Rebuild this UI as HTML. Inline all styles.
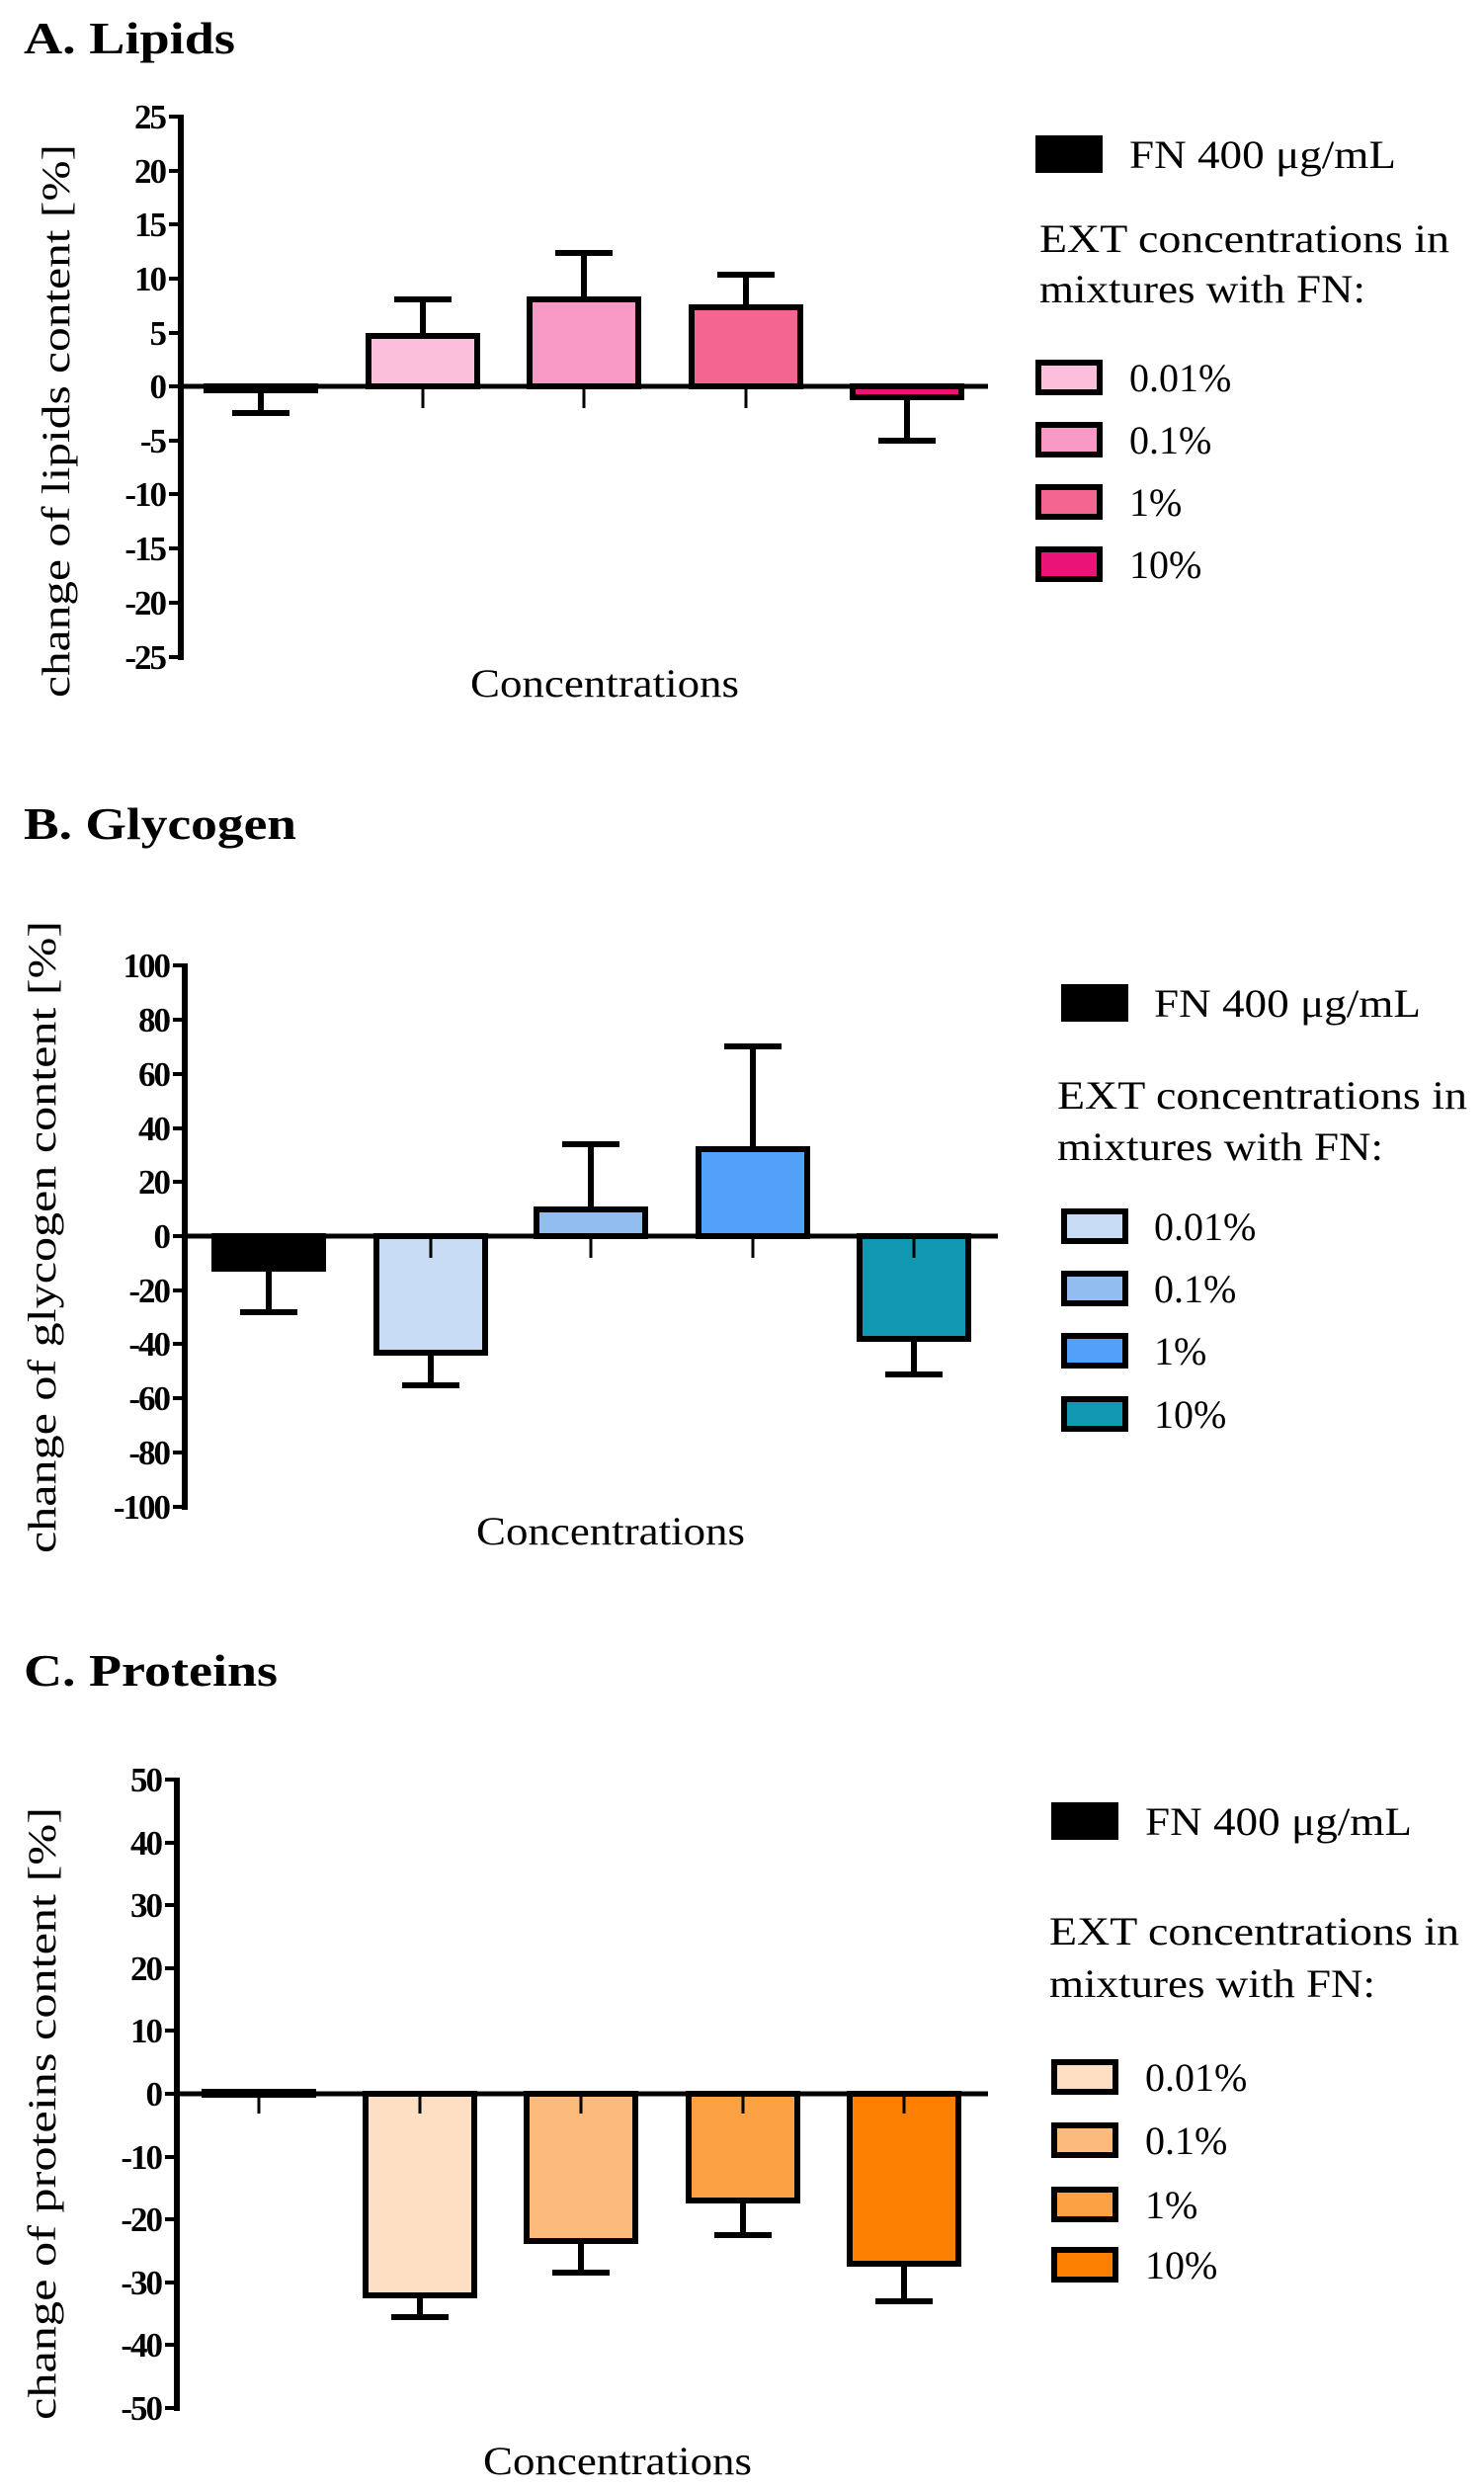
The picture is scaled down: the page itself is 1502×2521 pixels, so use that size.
<!DOCTYPE html>
<html><head><meta charset="utf-8"><style>
html,body{margin:0;padding:0;background:#fff;}
svg{display:block;}
.t{font-family:"Liberation Serif",serif;font-weight:bold;font-size:35px;letter-spacing:-2px;}
.l{font-family:"Liberation Serif",serif;font-size:40px;}
.h{font-family:"Liberation Serif",serif;font-weight:bold;font-size:46px;}
</style></head><body>
<svg width="1502" height="2521" viewBox="0 0 1502 2521" xmlns="http://www.w3.org/2000/svg">
<g stroke="#000" stroke-width="6" fill="none">
<line x1="183" y1="116" x2="183" y2="668"/>
<g stroke-width="4">
<line x1="171" y1="118" x2="183" y2="118"/><line x1="171" y1="173" x2="183" y2="173"/><line x1="171" y1="227" x2="183" y2="227"/><line x1="171" y1="282" x2="183" y2="282"/><line x1="171" y1="337" x2="183" y2="337"/><line x1="171" y1="391" x2="183" y2="391"/><line x1="171" y1="446" x2="183" y2="446"/><line x1="171" y1="500" x2="183" y2="500"/><line x1="171" y1="555" x2="183" y2="555"/><line x1="171" y1="610" x2="183" y2="610"/><line x1="171" y1="665" x2="183" y2="665"/>
</g>
<line x1="187" y1="975" x2="187" y2="1528"/>
<g stroke-width="4">
<line x1="175" y1="977" x2="187" y2="977"/><line x1="175" y1="1032" x2="187" y2="1032"/><line x1="175" y1="1087" x2="187" y2="1087"/><line x1="175" y1="1142" x2="187" y2="1142"/><line x1="175" y1="1196" x2="187" y2="1196"/><line x1="175" y1="1251" x2="187" y2="1251"/><line x1="175" y1="1306" x2="187" y2="1306"/><line x1="175" y1="1360" x2="187" y2="1360"/><line x1="175" y1="1415" x2="187" y2="1415"/><line x1="175" y1="1470" x2="187" y2="1470"/><line x1="175" y1="1525" x2="187" y2="1525"/>
</g>
<line x1="179" y1="1799" x2="179" y2="2440"/>
<g stroke-width="4">
<line x1="167" y1="1801" x2="179" y2="1801"/><line x1="167" y1="1865" x2="179" y2="1865"/><line x1="167" y1="1928" x2="179" y2="1928"/><line x1="167" y1="1992" x2="179" y2="1992"/><line x1="167" y1="2055" x2="179" y2="2055"/><line x1="167" y1="2119" x2="179" y2="2119"/><line x1="167" y1="2183" x2="179" y2="2183"/><line x1="167" y1="2246" x2="179" y2="2246"/><line x1="167" y1="2310" x2="179" y2="2310"/><line x1="167" y1="2373" x2="179" y2="2373"/><line x1="167" y1="2437" x2="179" y2="2437"/>
</g>
</g>

<g stroke="#000" stroke-width="6">
<line x1="264" y1="395" x2="264" y2="418"/><line x1="235" y1="418" x2="293" y2="418"/>
<line x1="428" y1="340" x2="428" y2="303"/><line x1="399" y1="303" x2="457" y2="303"/>
<line x1="591" y1="303" x2="591" y2="256"/><line x1="562" y1="256" x2="620" y2="256"/>
<line x1="755" y1="311" x2="755" y2="278"/><line x1="726" y1="278" x2="784" y2="278"/>
<line x1="918" y1="402" x2="918" y2="446"/><line x1="889" y1="446" x2="947" y2="446"/>
<rect x="209" y="391" width="110" height="4" fill="#000"/>
<rect x="373" y="340" width="110" height="51" fill="#fbbfdc"/>
<rect x="536" y="303" width="110" height="88" fill="#f799c4"/>
<rect x="700" y="311" width="110" height="80" fill="#f56592"/>
<rect x="863" y="391" width="110" height="11" fill="#ea1478"/>
<line x1="183" y1="391" x2="1000" y2="391" stroke-width="5"/>
<g stroke-width="3"><line x1="428" y1="391" x2="428" y2="413"/><line x1="591" y1="391" x2="591" y2="413"/><line x1="755" y1="391" x2="755" y2="413"/></g>
</g>

<g stroke="#000" stroke-width="6">
<line x1="272" y1="1284" x2="272" y2="1328"/><line x1="243" y1="1328" x2="301" y2="1328"/>
<line x1="436" y1="1369" x2="436" y2="1402"/><line x1="407" y1="1402" x2="465" y2="1402"/>
<line x1="598" y1="1224" x2="598" y2="1158"/><line x1="569" y1="1158" x2="627" y2="1158"/>
<line x1="762" y1="1163" x2="762" y2="1059"/><line x1="733" y1="1059" x2="791" y2="1059"/>
<line x1="925" y1="1355" x2="925" y2="1391"/><line x1="896" y1="1391" x2="954" y2="1391"/>
<rect x="217" y="1251" width="110" height="33" fill="#000"/>
<rect x="381" y="1251" width="110" height="118" fill="#c8dcf5"/>
<rect x="543" y="1224" width="110" height="27" fill="#92bdf0"/>
<rect x="707" y="1163" width="110" height="88" fill="#52a0f8"/>
<rect x="870" y="1251" width="110" height="104" fill="#1197b1"/>
<line x1="187" y1="1251" x2="1010" y2="1251" stroke-width="5"/>
<g stroke-width="3"><line x1="436" y1="1251" x2="436" y2="1273"/><line x1="598" y1="1251" x2="598" y2="1273"/><line x1="762" y1="1251" x2="762" y2="1273"/><line x1="925" y1="1251" x2="925" y2="1273"/></g>
</g>

<g stroke="#000" stroke-width="6">
<line x1="425" y1="2323" x2="425" y2="2345"/><line x1="396" y1="2345" x2="454" y2="2345"/>
<line x1="588" y1="2268" x2="588" y2="2300"/><line x1="559" y1="2300" x2="617" y2="2300"/>
<line x1="752" y1="2227" x2="752" y2="2262"/><line x1="723" y1="2262" x2="781" y2="2262"/>
<line x1="915" y1="2291" x2="915" y2="2329"/><line x1="886" y1="2329" x2="944" y2="2329"/>
<rect x="207" y="2117" width="110" height="3" fill="#000"/>
<rect x="370" y="2119" width="110" height="204" fill="#fde0c3"/>
<rect x="533" y="2119" width="110" height="149" fill="#fdbb7b"/>
<rect x="697" y="2119" width="110" height="108" fill="#fba043"/>
<rect x="860" y="2119" width="110" height="172" fill="#fb7f00"/>
<line x1="179" y1="2119" x2="1000" y2="2119" stroke-width="5"/>
<g stroke-width="3"><line x1="262" y1="2119" x2="262" y2="2139"/><line x1="425" y1="2119" x2="425" y2="2139"/><line x1="588" y1="2119" x2="588" y2="2139"/><line x1="752" y1="2119" x2="752" y2="2139"/><line x1="915" y1="2119" x2="915" y2="2139"/></g>
</g>

<text class="h" x="24" y="54" textLength="214" lengthAdjust="spacingAndGlyphs">A. Lipids</text>
<text class="h" x="24" y="849" textLength="276" lengthAdjust="spacingAndGlyphs">B. Glycogen</text>
<text class="h" x="24" y="1706" textLength="257" lengthAdjust="spacingAndGlyphs">C. Proteins</text>

<g class="t" text-anchor="end">
<text x="167" y="130">25</text><text x="167" y="185">20</text><text x="167" y="239">15</text><text x="167" y="294">10</text><text x="167" y="349">5</text><text x="167" y="403">0</text><text x="167" y="458">-5</text><text x="167" y="512">-10</text><text x="167" y="567">-15</text><text x="167" y="622">-20</text><text x="167" y="677">-25</text>
</g>
<g class="t" text-anchor="end">
<text x="171" y="989">100</text><text x="171" y="1044">80</text><text x="171" y="1099">60</text><text x="171" y="1154">40</text><text x="171" y="1208">20</text><text x="171" y="1263">0</text><text x="171" y="1318">-20</text><text x="171" y="1372">-40</text><text x="171" y="1427">-60</text><text x="171" y="1482">-80</text><text x="171" y="1537">-100</text>
</g>
<g class="t" text-anchor="end">
<text x="163" y="1813">50</text><text x="163" y="1877">40</text><text x="163" y="1940">30</text><text x="163" y="2004">20</text><text x="163" y="2067">10</text><text x="163" y="2131">0</text><text x="163" y="2195">-10</text><text x="163" y="2258">-20</text><text x="163" y="2322">-30</text><text x="163" y="2385">-40</text><text x="163" y="2449">-50</text>
</g>

<text class="l" text-anchor="middle" transform="translate(70,426) rotate(-90)" textLength="560" lengthAdjust="spacingAndGlyphs">change of lipids content [%]</text>
<text class="l" text-anchor="middle" transform="translate(56,1252) rotate(-90)" textLength="640" lengthAdjust="spacingAndGlyphs">change of glycogen content [%]</text>
<text class="l" text-anchor="middle" transform="translate(56,2139) rotate(-90)" textLength="620" lengthAdjust="spacingAndGlyphs">change of proteins content [%]</text>

<text class="l" text-anchor="middle" x="612" y="705" textLength="272" lengthAdjust="spacingAndGlyphs">Concentrations</text>
<text class="l" text-anchor="middle" x="618" y="1563" textLength="272" lengthAdjust="spacingAndGlyphs">Concentrations</text>
<text class="l" text-anchor="middle" x="625" y="2504" textLength="272" lengthAdjust="spacingAndGlyphs">Concentrations</text>

<g stroke="#000" stroke-width="6">
<rect x="1051" y="140" width="62" height="32" fill="#000"/>
<rect x="1051" y="367" width="62" height="30" fill="#fbbfdc"/>
<rect x="1051" y="430" width="62" height="30" fill="#f799c4"/>
<rect x="1051" y="493" width="62" height="30" fill="#f56592"/>
<rect x="1051" y="556" width="62" height="30" fill="#ea1478"/>
</g>
<g class="l">
<text x="1143" y="170" textLength="270" lengthAdjust="spacingAndGlyphs">FN 400 μg/mL</text>
<text x="1052" y="255" textLength="415" lengthAdjust="spacingAndGlyphs">EXT concentrations in</text>
<text x="1052" y="306" textLength="330" lengthAdjust="spacingAndGlyphs">mixtures with FN:</text>
<text x="1143" y="396">0.01%</text><text x="1143" y="459">0.1%</text><text x="1143" y="522">1%</text><text x="1143" y="585">10%</text>
</g>

<g stroke="#000" stroke-width="6">
<rect x="1077" y="999" width="62" height="32" fill="#000"/>
<rect x="1077" y="1226" width="62" height="30" fill="#c8dcf5"/>
<rect x="1077" y="1289" width="62" height="30" fill="#92bdf0"/>
<rect x="1077" y="1352" width="62" height="30" fill="#52a0f8"/>
<rect x="1077" y="1416" width="62" height="30" fill="#1197b1"/>
</g>
<g class="l">
<text x="1168" y="1029" textLength="270" lengthAdjust="spacingAndGlyphs">FN 400 μg/mL</text>
<text x="1070" y="1122" textLength="415" lengthAdjust="spacingAndGlyphs">EXT concentrations in</text>
<text x="1070" y="1174" textLength="330" lengthAdjust="spacingAndGlyphs">mixtures with FN:</text>
<text x="1168" y="1255">0.01%</text><text x="1168" y="1318">0.1%</text><text x="1168" y="1381">1%</text><text x="1168" y="1445">10%</text>
</g>

<g stroke="#000" stroke-width="6">
<rect x="1067" y="1827" width="62" height="32" fill="#000"/>
<rect x="1067" y="2087" width="62" height="30" fill="#fde0c3"/>
<rect x="1067" y="2151" width="62" height="30" fill="#fdbb7b"/>
<rect x="1067" y="2216" width="62" height="30" fill="#fba043"/>
<rect x="1067" y="2277" width="62" height="30" fill="#fb7f00"/>
</g>
<g class="l">
<text x="1159" y="1857" textLength="270" lengthAdjust="spacingAndGlyphs">FN 400 μg/mL</text>
<text x="1062" y="1968" textLength="415" lengthAdjust="spacingAndGlyphs">EXT concentrations in</text>
<text x="1062" y="2021" textLength="330" lengthAdjust="spacingAndGlyphs">mixtures with FN:</text>
<text x="1159" y="2116">0.01%</text><text x="1159" y="2180">0.1%</text><text x="1159" y="2245">1%</text><text x="1159" y="2306">10%</text>
</g>
</svg>
</body></html>
